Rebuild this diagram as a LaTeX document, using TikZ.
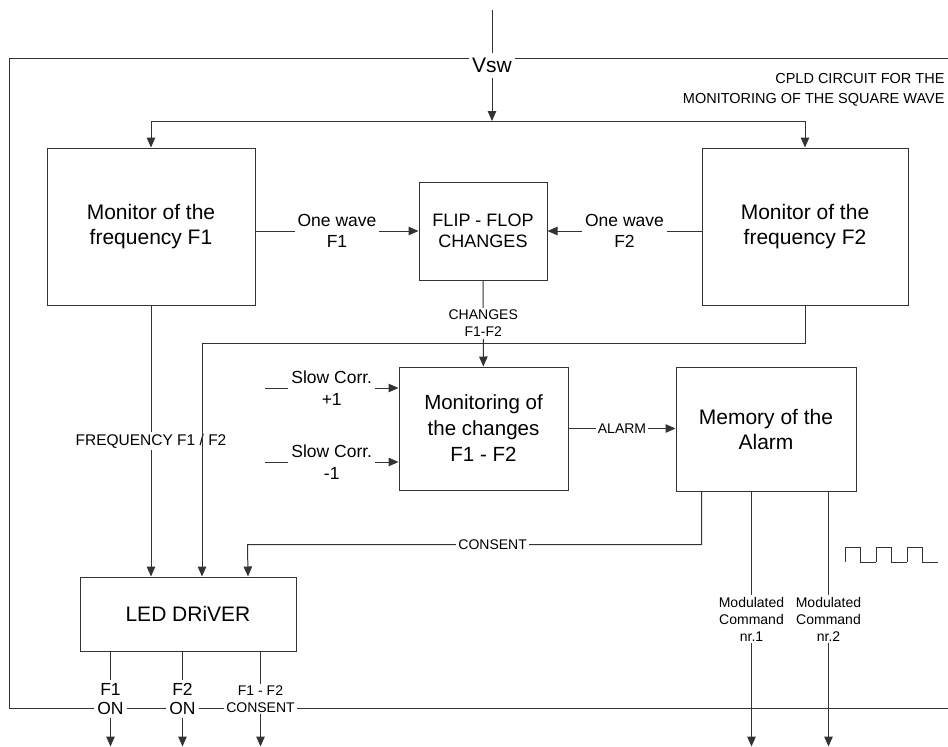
\documentclass[tikz,border=0pt]{standalone}
\usepackage{fontspec}
\setmainfont{Liberation Sans}
\usetikzlibrary{arrows.meta,positioning}
\tikzset{
	blk/.style={draw, align=center, inner sep=2pt, font=\fontsize{21}{25}\selectfont},
	lbl/.style={fill=white, align=center, inner sep=3pt, font=\fontsize{17.5}{20.5}\selectfont},
	tag/.style={fill=white, align=center, inner sep=2pt, font=\fontsize{14}{17}\selectfont},
	sig/.style={-{Triangle[length=10pt,width=8.5pt]}},
}
\begin{document}
\begin{tikzpicture}[x=1pt, y=-1pt, line width=1pt, draw=black!80]
	\useasboundingbox (0,0) rectangle (948,747);
	% frame of the CPLD
	\draw (960,58) -- (9,58) -- (9,708) -- (960,708);
	\node[anchor=east, align=right, inner sep=0pt, font=\fontsize{14.5}{20}\selectfont] (cpld) at (945,90) {CPLD CIRCUIT FOR THE\\MONITORING OF THE SQUARE WAVE};
	% blocks
	\node[blk, minimum width=208pt, minimum height=157pt] (mon1) at (151,226.5) {Monitor of the\\frequency F1};
	\node[blk, minimum width=206pt, minimum height=157pt] (mon2) at (805,226.5) {Monitor of the\\frequency F2};
	\node[blk, minimum width=128pt, minimum height=98pt, font=\fontsize{18}{21}\selectfont] (ff) at (483,231) {FLIP - FLOP\\CHANGES};
	\node[blk, minimum width=169pt, minimum height=123pt, font=\fontsize{20.5}{26}\selectfont] (mch) at (483.5,428.5) {Monitoring of\\the changes\\F1 - F2};
	\node[blk, minimum width=180pt, minimum height=124pt] (mem) at (766,429) {Memory of the\\Alarm};
	\node[blk, minimum width=216pt, minimum height=74pt] (led) at (188,614) {LED DRiVER};
	% input square wave
	\coordinate (vin) at (492,10);
	\coordinate (split) at (492,121);
	\draw[sig] (vin) -- node[fill=white, inner xsep=3pt, inner ysep=5pt, font=\fontsize{21}{24}\selectfont] {Vsw} (split);
	\draw[sig] (split) -| (mon1);
	\draw[sig] (split) -| (mon2);
	% one wave
	\draw[sig] (mon1.east |- ff.west) -- node[lbl] {One wave\\F1} (ff.west);
	\draw[sig] (mon2.west |- ff.east) -- node[lbl] {One wave\\F2} (ff.east);
	\draw[sig] (ff) -- node[tag] {CHANGES\\F1-F2} (mch);
	% to the led driver
	\draw[sig] (mon1.south) -- node[fill=white, inner sep=2pt, font=\fontsize{15.5}{18}\selectfont] {FREQUENCY F1 / F2} (mon1.south |- led.north);
	\draw[sig] (mon2.south) -- ++(0,38) -| ([xshift=14pt]led.north);
	% slow corrections
	\coordinate (s1) at (265,388);
	\coordinate (s2) at (265,462);
	\draw[sig] (s1) -- node[lbl, font=\fontsize{17.5}{22}\selectfont] {Slow Corr.\\+1} (s1 -| mch.west);
	\draw[sig] (s2) -- node[lbl, font=\fontsize{17.5}{22}\selectfont] {Slow Corr.\\-1} (s2 -| mch.west);
	\draw[sig] (mch.east) -- node[tag] {ALARM} (mch.east -| mem.west);
	\draw[sig] ([xshift=26pt]mem.south west) -- ++(0,53) -- node[tag, pos=0.46] {CONSENT} ++(-454,0) -- ([xshift=60pt]led.north);
	% outputs
	\foreach \dx/\n in {76/1,153/2}
		\draw[sig] ([xshift=\dx pt]mem.south west) -- node[tag] {Modulated\\Command\\nr.\n} ++(0,255);
	\foreach \dx/\txt in {31/{F1\\ON},103/{F2\\ON}}
		\draw[sig] ([xshift=\dx pt]led.south west) -- node[lbl, font=\fontsize{17.5}{19}\selectfont] {\txt} ++(0,95);
	\draw[sig] ([xshift=181pt]led.south west) -- node[tag] {F1 - F2\\CONSENT} ++(0,95);
	% square wave symbol
	\foreach \x in {845,876,907}
		\draw (\x,562) |- (\x+15.5,547) |- (\x+31,562);
\end{tikzpicture}
\end{document}
